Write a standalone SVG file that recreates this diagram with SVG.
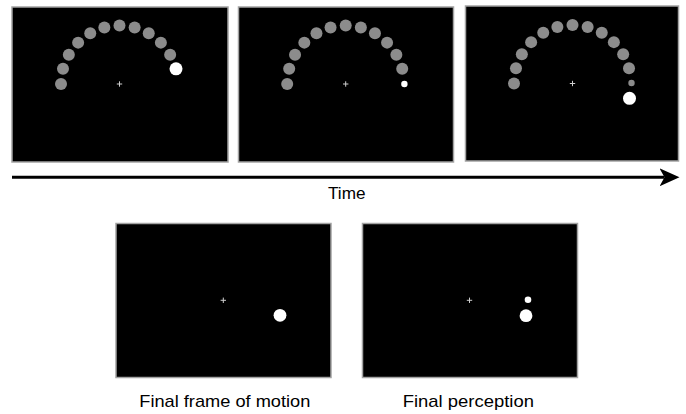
<svg xmlns="http://www.w3.org/2000/svg" width="686" height="414" viewBox="0 0 686 414">
  <style>
    .frame { fill: #000; stroke: #a3a3a3; stroke-width: 1.5; }
    .trail { fill: #8c8c8c; }
    .probe { fill: #fff; }
    .fix { stroke: #cfcfcf; stroke-width: 1; fill: none; }
    .label { font-family: "Liberation Sans", Arial, sans-serif; font-size: 17px; fill: #000; }
    .axis { stroke: #000; stroke-width: 3; fill: none; }
  </style>
  <defs>
    <marker id="head" markerUnits="userSpaceOnUse" markerWidth="20" markerHeight="18" viewBox="0 0 20 18" refX="5" refY="9" orient="auto">
      <path d="M0,0 L20,9 L0,18 L5,9 Z" fill="#000"/>
    </marker>
    <!-- fixation cross, centred on 0,0 -->
    <path id="cross" class="fix" d="M-2.7,0 H2.7 M0,-2.7 V2.7"/>
    <!-- eleven trail dots from 180 deg to 30 deg on a 58.5 px arc -->
    <g id="arc11">
      <circle class="trail" r="6" cx="-58.5" cy="0"/>
      <circle class="trail" r="6" cx="-56.51" cy="-15.14"/>
      <circle class="trail" r="6" cx="-50.66" cy="-29.25"/>
      <circle class="trail" r="6" cx="-41.37" cy="-41.37"/>
      <circle class="trail" r="6" cx="-29.25" cy="-50.66"/>
      <circle class="trail" r="6" cx="-15.14" cy="-56.51"/>
      <circle class="trail" r="6" cx="0" cy="-58.5"/>
      <circle class="trail" r="6" cx="15.14" cy="-56.51"/>
      <circle class="trail" r="6" cx="29.25" cy="-50.66"/>
      <circle class="trail" r="6" cx="41.37" cy="-41.37"/>
      <circle class="trail" r="6" cx="50.66" cy="-29.25"/>
    </g>
  </defs>

  <!-- frame 1: disc reaches 15 deg -->
  <g id="frame1">
    <rect class="frame" x="12" y="7" width="216" height="155"/>
    <g transform="translate(119.5,84)">
      <use href="#cross"/>
      <use href="#arc11"/>
      <circle class="probe" r="6.5" cx="56.51" cy="-15.14"/>
    </g>
  </g>

  <!-- frame 2: flash at 0 deg -->
  <g id="frame2">
    <rect class="frame" x="238.5" y="7" width="215" height="155"/>
    <g transform="translate(345.7,84)">
      <use href="#cross"/>
      <use href="#arc11"/>
      <circle class="trail" r="6" cx="56.51" cy="-15.14"/>
      <circle class="probe" r="3.2" cx="58.7" cy="0"/>
    </g>
  </g>

  <!-- frame 3: disc continues to -15 deg -->
  <g id="frame3">
    <rect class="frame" x="465.5" y="6" width="213" height="155"/>
    <g transform="translate(572.5,83.5)">
      <use href="#cross"/>
      <use href="#arc11"/>
      <circle class="trail" r="6" cx="56.51" cy="-15.14"/>
      <circle class="trail" r="3.2" cx="59" cy="-0.5"/>
      <circle class="probe" r="6.5" cx="57" cy="14.8"/>
    </g>
  </g>

  <!-- time axis -->
  <g id="connectors">
    <line class="axis" x1="12" y1="177.3" x2="664.5" y2="177.3" marker-end="url(#head)"/>
  </g>
  <text class="label" x="328" y="199" textLength="37.5" lengthAdjust="spacingAndGlyphs">Time</text>

  <!-- final frame of motion -->
  <g id="final-frame">
    <rect class="frame" x="116" y="223.5" width="215" height="154"/>
    <use href="#cross" x="223.3" y="300.3"/>
    <circle class="probe" r="6.4" cx="280" cy="315.3"/>
    <text class="label" x="139.3" y="406.5" textLength="171" lengthAdjust="spacingAndGlyphs">Final frame of motion</text>
  </g>

  <!-- final perception -->
  <g id="final-perception">
    <rect class="frame" x="362.5" y="223.5" width="215" height="154"/>
    <use href="#cross" x="469.5" y="300.3"/>
    <circle class="probe" r="6.4" cx="526" cy="315.7"/>
    <circle class="probe" r="3.3" cx="528" cy="299.7"/>
    <text class="label" x="402.7" y="406.5" textLength="131.3" lengthAdjust="spacingAndGlyphs">Final perception</text>
  </g>
</svg>
